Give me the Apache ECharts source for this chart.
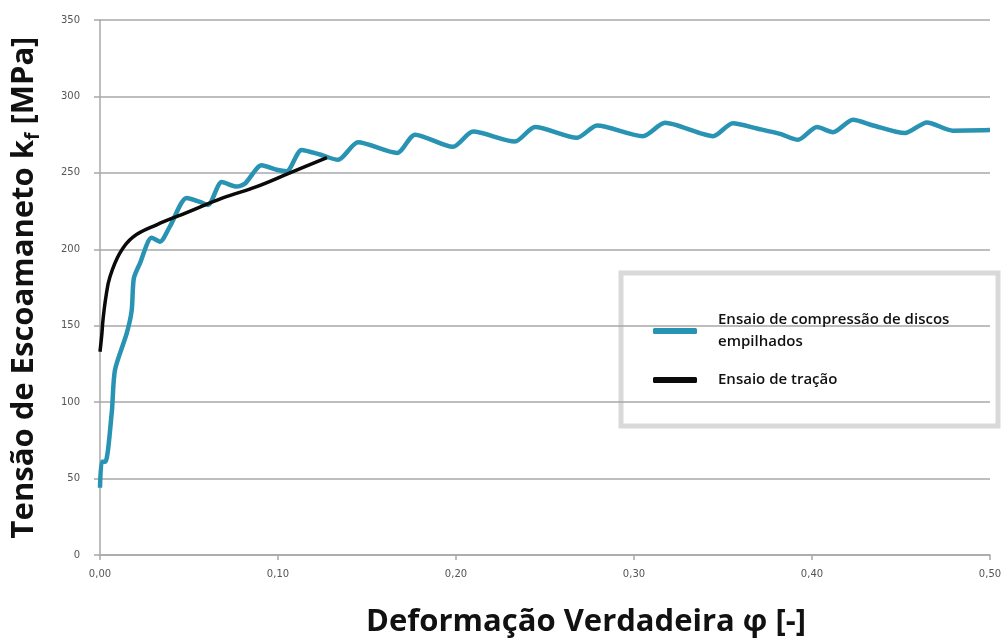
<!DOCTYPE html>
<html>
<head>
<meta charset="utf-8">
<script src="https://cdn.jsdelivr.net/npm/echarts@6/dist/echarts.min.js"></script>
<style>
  html, body { margin: 0; padding: 0; background: #fff; }
  #chart { width: 1007px; height: 641px; }
</style>
</head>
<body>
<div id="chart"></div>
<script>
// Flow stress vs true strain: stacked-disc compression test and tensile test
const compStrain = [0.000, 0.001, 0.003, 0.0066, 0.0084, 0.015, 0.0178, 0.019, 0.0225, 0.029, 0.0337, 0.0393,
  0.0487, 0.0562, 0.0607, 0.0684, 0.0768, 0.0815, 0.0908, 0.0993, 0.1048, 0.1133, 0.1236, 0.1337, 0.145,
  0.1669, 0.177, 0.1983, 0.2096, 0.2331, 0.2444, 0.268, 0.2792, 0.305, 0.3174, 0.337, 0.3444, 0.3556,
  0.3691, 0.382, 0.3921, 0.4028, 0.4118, 0.423, 0.4343, 0.4522, 0.4646, 0.4792, 0.500];
const compStress = [44, 61, 61, 93, 121, 145, 160, 181, 191, 207.5, 205, 215,
  233.6, 231, 229, 244, 241, 243, 255, 252, 251, 265, 262, 258.5, 270,
  263, 275, 267, 277, 270.5, 280, 273, 281, 274, 282.7, 276, 274, 282.5,
  279, 275.5, 271.6, 280, 276.6, 284.7, 281, 276, 283, 277.6, 278];

const tensStrain = [0.000, 0.001, 0.0017, 0.0034, 0.0056, 0.0112, 0.0185, 0.0318, 0.0487, 0.069, 0.088, 0.1067, 0.1275];
const tensStress = [133, 144, 154, 169.5, 182, 197.6, 208, 216, 224, 233.6, 241, 250, 260];

const seriesNames = ['Ensaio de compressão de discos\nempilhados', 'Ensaio de tração'];
const xTicks = [0, 0.1, 0.2, 0.3, 0.4, 0.5];
const yTicks = [0, 50, 100, 150, 200, 250, 300, 350];

const pairs = (xs, ys) => xs.map((x, i) => [x, ys[i]]);

const chart = echarts.init(document.getElementById('chart'), null, { renderer: 'canvas' });
const titleFont = '"Open Sans", "DejaVu Sans", sans-serif';
const gridColor = '#a8a8a8';

chart.setOption({
  animation: false,
  backgroundColor: '#ffffff',
  grid: { left: 100, right: 17, top: 20, bottom: 86, outerBoundsMode: 'none', containLabel: false },
  xAxis: {
    type: 'value',
    min: xTicks[0],
    max: xTicks[xTicks.length - 1],
    interval: 0.1,
    name: 'Deformação Verdadeira φ [-]',
    nameLocation: 'middle',
    nameGap: 52,
    nameTextStyle: { fontFamily: titleFont, fontWeight: 'bold', fontSize: 31, color: '#111', padding: [0, 0, 0, 82] },
    axisLine: { show: true, lineStyle: { color: gridColor, width: 1.5 } },
    axisTick: { show: true, length: 5, lineStyle: { color: gridColor, width: 1.5 } },
    axisLabel: {
      margin: 14, fontSize: 10, color: '#555', fontFamily: '"DejaVu Sans", sans-serif',
      formatter: v => v.toFixed(2).replace('.', ',')
    },
    splitLine: { show: false }
  },
  yAxis: {
    type: 'value',
    min: yTicks[0],
    max: yTicks[yTicks.length - 1],
    interval: 50,
    name: '{a|Tensão de Escoamaneto k}{s|f}{a| [MPa]}',
    nameLocation: 'middle',
    nameRotate: 90,
    nameGap: 57,
    nameTextStyle: {
      rich: {
        a: { fontFamily: titleFont, fontWeight: 'bold', fontSize: 31, color: '#111', lineHeight: 38 },
        s: { fontFamily: titleFont, fontWeight: 'bold', fontSize: 19, color: '#111', lineHeight: 21, verticalAlign: 'bottom' }
      }
    },
    axisLine: { show: true, lineStyle: { color: gridColor, width: 1.5 } },
    axisTick: { show: true, length: 6, lineStyle: { color: gridColor, width: 1.5 } },
    axisLabel: { margin: 20, fontSize: 10, color: '#555', fontFamily: '"DejaVu Sans", sans-serif' },
    splitLine: { show: true, lineStyle: { color: gridColor, width: 1.5 } }
  },
  legend: {
    orient: 'vertical',
    left: 648,
    top: 304,
    itemWidth: 44,
    itemHeight: 6,
    itemGap: 16,
    icon: 'roundRect',
    textStyle: { fontFamily: titleFont, fontWeight: 600, fontSize: 15, color: '#111', lineHeight: 22, padding: [0, 0, 0, 16] },
    data: seriesNames
  },
  graphic: [{
    type: 'rect',
    shape: { x: 621, y: 273, width: 377, height: 153 },
    style: { fill: '#ffffff', stroke: '#d9d9d9', lineWidth: 5 },
    z: -1,
    zlevel: 0
  }],
  series: [
    {
      name: seriesNames[0],
      type: 'line',
      data: pairs(compStrain, compStress),
      smooth: 0.25,
      symbol: 'none',
      lineStyle: { color: '#2893b2', width: 4.5 },
      itemStyle: { color: '#2893b2' },
      z: 3
    },
    {
      name: seriesNames[1],
      type: 'line',
      data: pairs(tensStrain, tensStress),
      smooth: 0.4,
      symbol: 'none',
      lineStyle: { color: '#0a0a0a', width: 3.5 },
      itemStyle: { color: '#0a0a0a' },
      z: 4
    }
  ]
});
</script>
</body>
</html>
